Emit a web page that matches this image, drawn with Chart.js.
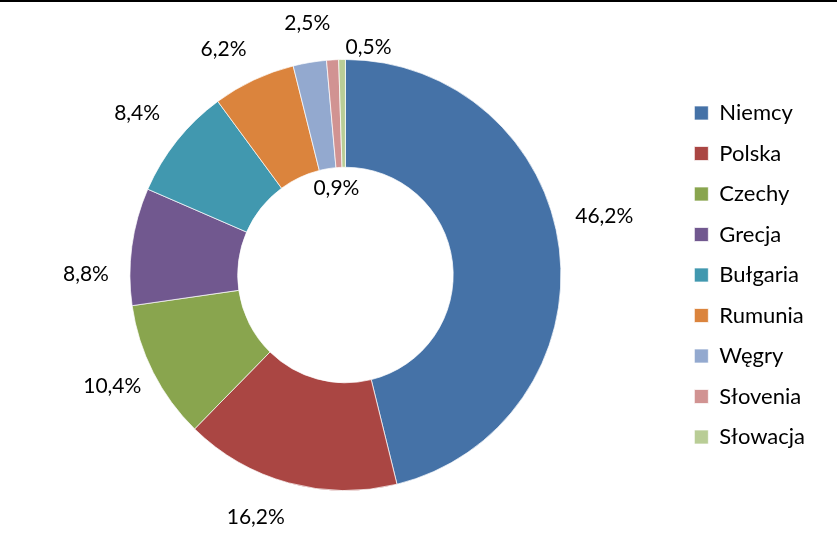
<!DOCTYPE html>
<html>
<head>
<meta charset="utf-8">
<script src="https://cdn.jsdelivr.net/npm/chart.js@4/dist/chart.umd.min.js"></script>
<style>
  html, body { margin: 0; padding: 0; background: #fff; }
  #wrap { width: 837px; height: 546px; }
</style>
</head>
<body>
<div id="wrap"><canvas id="shareChart" width="837" height="546"></canvas></div>
<script>
const countries = ["Niemcy", "Polska", "Czechy", "Grecja", "Bułgaria", "Rumunia", "Węgry", "Słovenia", "Słowacja"]
const shares = [46.2, 16.2, 10.4, 8.8, 8.4, 6.2, 2.5, 0.9, 0.5]
const colors = ["#4572A7", "#AA4643", "#89A54E", "#71588F", "#4198AF", "#DB843D", "#93A9CF", "#D19392", "#B9CD96"]

// label placement: [angle shift in degrees, distance from outer edge in px]
const labelNudge = [[-5.9, 50], [5, 43], [1.3, 43], [-7.4, 44], [-0.8, 48], [-3.2, 41], [0.9, 39], [-2.5, -128], [6.7, 13]]

const FONT = "Lato, 'Open Sans', sans-serif"

function formatShare(v) {
  return v.toFixed(1).replace(".", ",") + "%"
}

const frame = {
  id: "frame",
  beforeDraw(chart) {
    let ctx = chart.ctx
    ctx.save()
    ctx.fillStyle = "#fff"
    ctx.fillRect(0, 0, chart.width, chart.height)
    ctx.fillStyle = "#000"
    ctx.fillRect(0, 0, chart.width, 2)
    ctx.restore()
  }
}

const sliceLabels = {
  id: "sliceLabels",
  afterDatasetsDraw(chart) {
    let ctx = chart.ctx
    let meta = chart.getDatasetMeta(0)
    ctx.save()
    ctx.font = "21px " + FONT
    ctx.fillStyle = "#000"
    ctx.textAlign = "center"
    ctx.textBaseline = "middle"
    meta.data.forEach((arc, i) => {
      let p = arc.getProps(["x", "y", "startAngle", "endAngle", "outerRadius"], true)
      let nudge = labelNudge[i]
      let angle = (p.startAngle + p.endAngle) / 2 + nudge[0] * Math.PI / 180
      let r = p.outerRadius + nudge[1]
      ctx.fillText(formatShare(shares[i]), p.x + Math.cos(angle) * r, p.y + Math.sin(angle) * r)
    })
    ctx.restore()
  }
}

function createShareChart() {
  let ctx = document.getElementById("shareChart")
  return new Chart(ctx, {
    type: "doughnut",
    data: {
      labels: countries,
      datasets: [{
        data: shares,
        backgroundColor: colors,
        borderColor: "rgba(255,255,255,0.7)",
        borderWidth: 1
      }]
    },
    options: {
      responsive: false,
      animation: false,
      cutout: "50%",
      layout: {
        padding: { top: 59, bottom: 55, left: 15, right: 22 }
      },
      plugins: {
        legend: {
          position: "right",
          labels: {
            boxWidth: 14,
            boxHeight: 14,
            padding: 18.5,
            color: "#000",
            font: { family: FONT, size: 22 }
          }
        },
        tooltip: { enabled: false }
      }
    },
    plugins: [frame, sliceLabels]
  })
}

createShareChart()
</script>
</body>
</html>
